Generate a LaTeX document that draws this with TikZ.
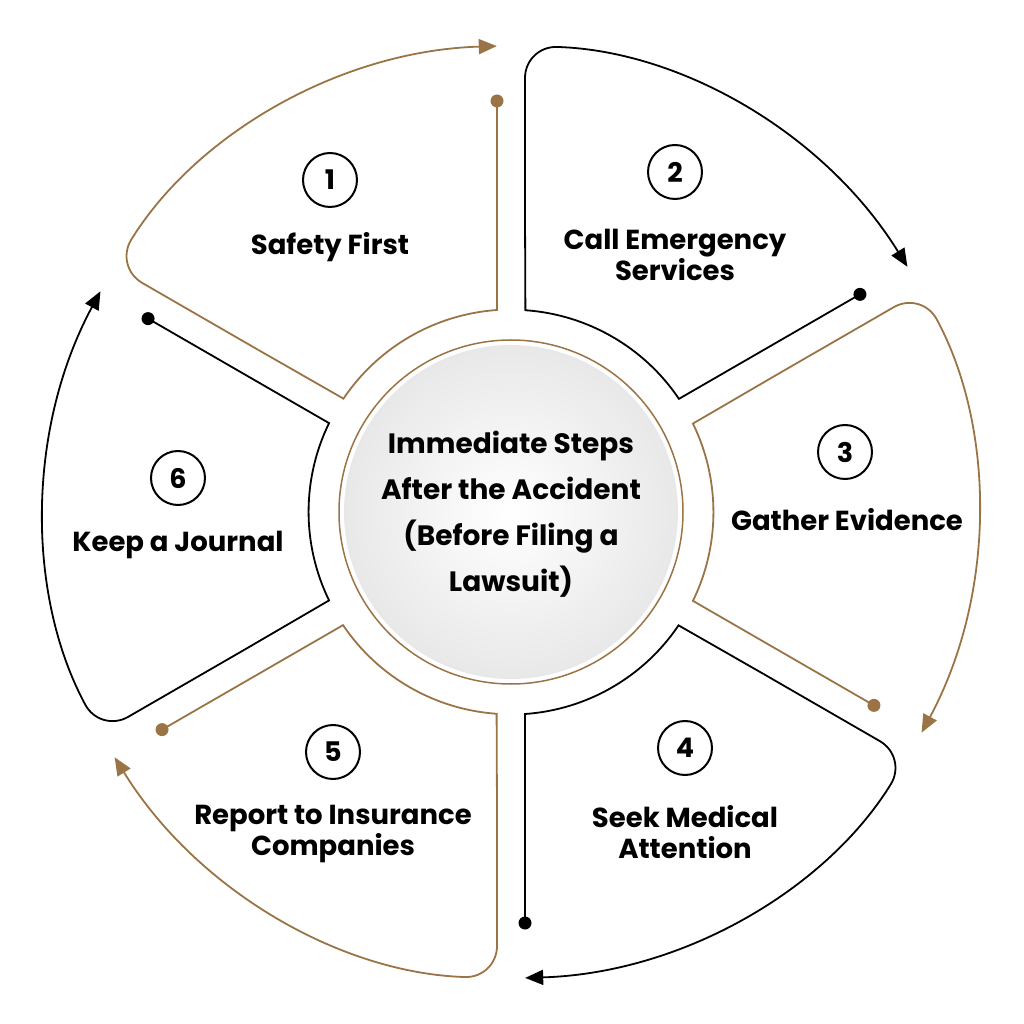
\documentclass[tikz,border=0pt]{standalone}
\usepackage{fontspec}
\setmainfont{Poppins}
\usetikzlibrary{arrows.meta, calc}
\definecolor{bronze}{HTML}{9A7446}
\tikzset{
  segline/.style={line width=1.8pt},
  numcirc/.style={circle, draw=black, line width=2pt, minimum size=54pt, inner sep=0pt, font=\fontsize{27}{30}\selectfont\bfseries},
  steplabel/.style={align=center, font=\fontsize{27.5}{31}\selectfont\bfseries},
  tip/.style={-{Triangle[length=18pt,width=15pt]}}
}
\begin{document}
\begin{tikzpicture}[x=1pt,y=1pt]
\useasboundingbox (-511,-512) rectangle (513,512);
% six segments: start angle / colour
\foreach \a/\col [count=\i] in {150/bronze, 90/black, 30/bronze, -30/black, -90/bronze, -150/black}{
  \pgfmathsetmacro\s{\a}
  \pgfmathsetmacro\e{\a-60}
  \coordinate (dot\i) at ($(\e:411)+(\e+90:14)$);
  \draw[segline, \col] (dot\i) -- ($(\e:202)+(\e+90:14)$)
    arc[start angle=\e+3.97, end angle=\s-3.97, radius=202] -- ($(\s:300)+(\s-90:14)$);
  \draw[segline, \col, tip, rounded corners=32pt] ($(\s:300)+(\s-90:14)$) -- ($(\s:466)+(\s-90:14)$)
    arc[start angle=\s-1.72, end angle=\e+1.72, radius=466];
  \fill[\col] (dot\i) circle (6.5);
}
% centre
\draw[bronze, line width=1.5pt] (0,0) circle (172);
\shade[inner color=white, outer color=black!9] (0,0) circle (167);
\node (centre) [steplabel, font=\fontsize{28}{46}\selectfont\bfseries] at (0,-2) {Immediate Steps\\After the Accident\\(Before Filing a\\Lawsuit)};
% numbers and labels
\node (n1) [numcirc] at (-181,332) {1};
\node (n2) [numcirc] at (164,340) {2};
\node (n3) [numcirc] at (334,60) {3};
\node (n4) [numcirc] at (174,-236) {4};
\node (n5) [numcirc] at (-178,-240) {5};
\node (n6) [numcirc] at (-333,34) {6};
\node (l1) [steplabel] at (-181,265) {Safety First};
\node (l2) [steplabel] at (164,257) {Call Emergency\\Services};
\node (l3) [steplabel] at (336,-8) {Gather Evidence};
\node (l4) [steplabel] at (174,-320) {Seek Medical\\Attention};
\node (l5) [steplabel] at (-178,-322) {Report to Insurance\\Companies};
\node (l6) [steplabel] at (-333,-33) {Keep a Journal};
\end{tikzpicture}
\end{document}
